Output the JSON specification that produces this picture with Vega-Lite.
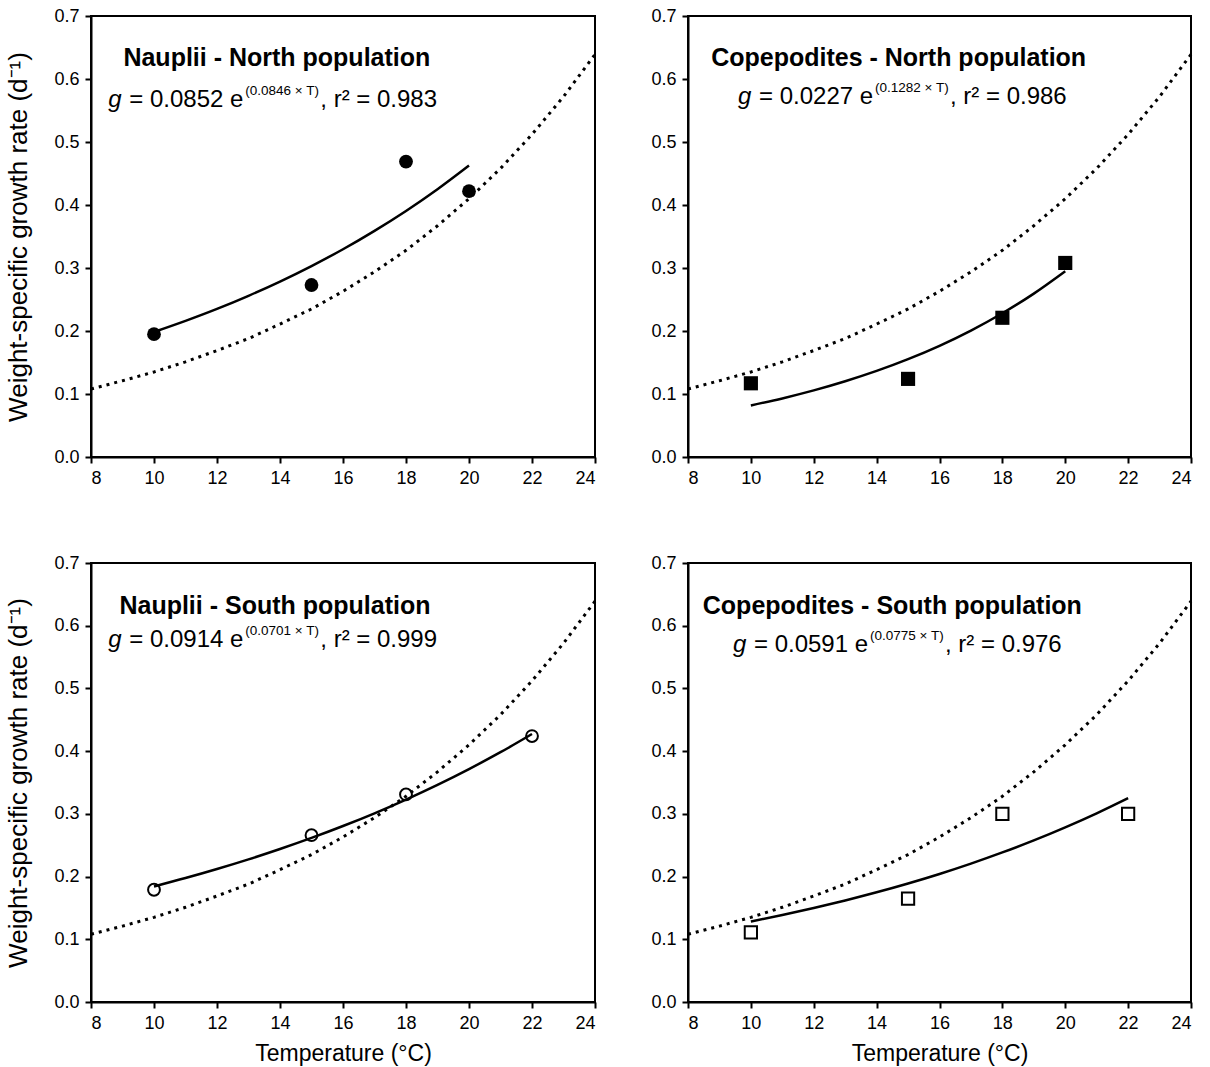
{
  "$schema": "https://vega.github.io/schema/vega-lite/v6.json",
  "background": "white",
  "padding": {"left": 4, "top": 6, "right": 5, "bottom": 0},
  "config": {
    "font": "Liberation Sans",
    "view": {"stroke": "black", "strokeWidth": 2},
    "axis": {
      "domain": true, "domainColor": "black", "domainWidth": 2,
      "ticks": true, "tickColor": "black", "tickWidth": 2, "tickSize": 6,
      "grid": false, "labelFont": "Liberation Sans", "labelFontSize": 18, "labelColor": "black", "labelPadding": 6,
      "titleFont": "Liberation Sans", "titleFontSize": 23, "titleFontWeight": "normal", "titleColor": "black"
    },
    "text": {"color": "black", "font": "Liberation Sans"}
  },
  "datasets": {
    "ref": [
      {"T": 8, "g": 0.108}, {"T": 9, "g": 0.121}, {"T": 10, "g": 0.135}, {"T": 11, "g": 0.151},
      {"T": 12, "g": 0.169}, {"T": 13, "g": 0.188}, {"T": 14, "g": 0.211}, {"T": 15, "g": 0.235},
      {"T": 16, "g": 0.263}, {"T": 17, "g": 0.294}, {"T": 18, "g": 0.328}, {"T": 19, "g": 0.367},
      {"T": 20, "g": 0.41}, {"T": 21, "g": 0.458}, {"T": 22, "g": 0.512}, {"T": 23, "g": 0.572},
      {"T": 24, "g": 0.639}
    ],
    "fit": [
      {"panel": "NN", "T": 10, "g": 0.1985}, {"panel": "NN", "T": 11, "g": 0.2161}, {"panel": "NN", "T": 12, "g": 0.2351},
      {"panel": "NN", "T": 13, "g": 0.2559}, {"panel": "NN", "T": 14, "g": 0.2785}, {"panel": "NN", "T": 15, "g": 0.3031},
      {"panel": "NN", "T": 16, "g": 0.3298}, {"panel": "NN", "T": 17, "g": 0.359}, {"panel": "NN", "T": 18, "g": 0.3906},
      {"panel": "NN", "T": 19, "g": 0.4251}, {"panel": "NN", "T": 20, "g": 0.4627},
      {"panel": "CN", "T": 10, "g": 0.0818}, {"panel": "CN", "T": 11, "g": 0.093}, {"panel": "CN", "T": 12, "g": 0.1057},
      {"panel": "CN", "T": 13, "g": 0.1202}, {"panel": "CN", "T": 14, "g": 0.1366}, {"panel": "CN", "T": 15, "g": 0.1553},
      {"panel": "CN", "T": 16, "g": 0.1765}, {"panel": "CN", "T": 17, "g": 0.2007}, {"panel": "CN", "T": 18, "g": 0.2281},
      {"panel": "CN", "T": 19, "g": 0.2593}, {"panel": "CN", "T": 20, "g": 0.2948},
      {"panel": "NS", "T": 10, "g": 0.1842}, {"panel": "NS", "T": 11, "g": 0.1976}, {"panel": "NS", "T": 12, "g": 0.212},
      {"panel": "NS", "T": 13, "g": 0.2274}, {"panel": "NS", "T": 14, "g": 0.2439}, {"panel": "NS", "T": 15, "g": 0.2616},
      {"panel": "NS", "T": 16, "g": 0.2806}, {"panel": "NS", "T": 17, "g": 0.3009}, {"panel": "NS", "T": 18, "g": 0.3228},
      {"panel": "NS", "T": 19, "g": 0.3462}, {"panel": "NS", "T": 20, "g": 0.3714}, {"panel": "NS", "T": 21, "g": 0.3983},
      {"panel": "NS", "T": 22, "g": 0.4273},
      {"panel": "CS", "T": 10, "g": 0.1283}, {"panel": "CS", "T": 11, "g": 0.1386}, {"panel": "CS", "T": 12, "g": 0.1498},
      {"panel": "CS", "T": 13, "g": 0.1619}, {"panel": "CS", "T": 14, "g": 0.1749}, {"panel": "CS", "T": 15, "g": 0.189},
      {"panel": "CS", "T": 16, "g": 0.2042}, {"panel": "CS", "T": 17, "g": 0.2207}, {"panel": "CS", "T": 18, "g": 0.2385},
      {"panel": "CS", "T": 19, "g": 0.2577}, {"panel": "CS", "T": 20, "g": 0.2785}, {"panel": "CS", "T": 21, "g": 0.3009},
      {"panel": "CS", "T": 22, "g": 0.3251}
    ],
    "obs": [
      {"panel": "NN", "T": 10, "g": 0.195}, {"panel": "NN", "T": 15, "g": 0.273}, {"panel": "NN", "T": 18, "g": 0.469}, {"panel": "NN", "T": 20, "g": 0.422},
      {"panel": "CN", "T": 10, "g": 0.117}, {"panel": "CN", "T": 15, "g": 0.124}, {"panel": "CN", "T": 18, "g": 0.221}, {"panel": "CN", "T": 20, "g": 0.308},
      {"panel": "NS", "T": 10, "g": 0.179}, {"panel": "NS", "T": 15, "g": 0.266}, {"panel": "NS", "T": 18, "g": 0.331}, {"panel": "NS", "T": 22, "g": 0.424},
      {"panel": "CS", "T": 10, "g": 0.111}, {"panel": "CS", "T": 15, "g": 0.165}, {"panel": "CS", "T": 18, "g": 0.3}, {"panel": "CS", "T": 22, "g": 0.3}
    ],
    "titles": [
      {"panel": "NN", "T": 13.9, "g": 0.633, "label": "Nauplii - North population"},
      {"panel": "CN", "T": 14.7, "g": 0.633, "label": "Copepodites - North population"},
      {"panel": "NS", "T": 13.84, "g": 0.632, "label": "Nauplii - South population"},
      {"panel": "CS", "T": 14.5, "g": 0.632, "label": "Copepodites - South population"}
    ],
    "eqs": [
      {"panel": "NN", "T": 8.55, "g": 0.567, "v": "g", "lhs": "= 0.0852 e", "sup": "(0.0846 × T)", "rhs": ", r² = 0.983"},
      {"panel": "CN", "T": 9.59, "g": 0.571, "v": "g", "lhs": "= 0.0227 e", "sup": "(0.1282 × T)", "rhs": ", r² = 0.986"},
      {"panel": "NS", "T": 8.55, "g": 0.577, "v": "g", "lhs": "= 0.0914 e", "sup": "(0.0701 × T)", "rhs": ", r² = 0.999"},
      {"panel": "CS", "T": 9.43, "g": 0.569, "v": "g", "lhs": "= 0.0591 e", "sup": "(0.0775 × T)", "rhs": ", r² = 0.976"}
    ]
  },
  "spacing": 65,
  "vconcat": [
    {
      "spacing": 47,
      "hconcat": [
        {
          "width": 504, "height": 441,
          "encoding": {
            "x": {"field": "T", "type": "quantitative", "scale": {"domain": [8, 24], "nice": false, "zero": false}, "axis": {"values": [8, 10, 12, 14, 16, 18, 20, 22, 24], "title": null}},
            "y": {"field": "g", "type": "quantitative", "scale": {"domain": [0, 0.7], "nice": false}, "axis": {"values": [0, 0.1, 0.2, 0.3, 0.4, 0.5, 0.6, 0.7], "format": ".1f", "title": "Weight-specific growth rate (d⁻¹)", "titleFontSize": 26, "titlePadding": 22}}
          },
          "layer": [
            {"data": {"name": "ref"}, "mark": {"type": "line", "color": "black", "strokeWidth": 3, "strokeDash": [3, 5], "strokeCap": "butt"}},
            {"data": {"name": "fit"}, "transform": [{"filter": "datum.panel === 'NN'"}], "mark": {"type": "line", "color": "black", "strokeWidth": 2.5, "interpolate": "monotone"}},
            {"data": {"name": "obs"}, "transform": [{"filter": "datum.panel === 'NN'"}], "mark": {"type": "circle", "color": "black", "size": 190, "opacity": 1}},
            {"data": {"name": "titles"}, "transform": [{"filter": "datum.panel === 'NN'"}], "mark": {"type": "text", "fontSize": 25, "fontWeight": "bold", "align": "center", "baseline": "middle"}, "encoding": {"text": {"field": "label"}}},
            {"data": {"name": "eqs"}, "transform": [{"filter": "datum.panel === 'NN'"}], "mark": {"type": "text", "fontSize": 24, "fontStyle": "italic", "align": "left", "baseline": "middle"}, "encoding": {"text": {"field": "v"}}},
            {"data": {"name": "eqs"}, "transform": [{"filter": "datum.panel === 'NN'"}], "mark": {"type": "text", "fontSize": 24, "align": "left", "baseline": "middle", "dx": 21}, "encoding": {"text": {"field": "lhs"}}},
            {"data": {"name": "eqs"}, "transform": [{"filter": "datum.panel === 'NN'"}], "mark": {"type": "text", "fontSize": 13.5, "align": "left", "baseline": "middle", "dx": 137, "dy": -9}, "encoding": {"text": {"field": "sup"}}},
            {"data": {"name": "eqs"}, "transform": [{"filter": "datum.panel === 'NN'"}], "mark": {"type": "text", "fontSize": 24, "align": "left", "baseline": "middle", "dx": 212}, "encoding": {"text": {"field": "rhs"}}}
          ]
        },
        {
          "width": 503, "height": 441,
          "encoding": {
            "x": {"field": "T", "type": "quantitative", "scale": {"domain": [8, 24], "nice": false, "zero": false}, "axis": {"values": [8, 10, 12, 14, 16, 18, 20, 22, 24], "title": null}},
            "y": {"field": "g", "type": "quantitative", "scale": {"domain": [0, 0.7], "nice": false}, "axis": {"values": [0, 0.1, 0.2, 0.3, 0.4, 0.5, 0.6, 0.7], "format": ".1f", "title": null}}
          },
          "layer": [
            {"data": {"name": "ref"}, "mark": {"type": "line", "color": "black", "strokeWidth": 3, "strokeDash": [3, 5], "strokeCap": "butt"}},
            {"data": {"name": "fit"}, "transform": [{"filter": "datum.panel === 'CN'"}], "mark": {"type": "line", "color": "black", "strokeWidth": 2.5, "interpolate": "monotone"}},
            {"data": {"name": "obs"}, "transform": [{"filter": "datum.panel === 'CN'"}], "mark": {"type": "square", "color": "black", "size": 200, "opacity": 1}},
            {"data": {"name": "titles"}, "transform": [{"filter": "datum.panel === 'CN'"}], "mark": {"type": "text", "fontSize": 25, "fontWeight": "bold", "align": "center", "baseline": "middle"}, "encoding": {"text": {"field": "label"}}},
            {"data": {"name": "eqs"}, "transform": [{"filter": "datum.panel === 'CN'"}], "mark": {"type": "text", "fontSize": 24, "fontStyle": "italic", "align": "left", "baseline": "middle"}, "encoding": {"text": {"field": "v"}}},
            {"data": {"name": "eqs"}, "transform": [{"filter": "datum.panel === 'CN'"}], "mark": {"type": "text", "fontSize": 24, "align": "left", "baseline": "middle", "dx": 21}, "encoding": {"text": {"field": "lhs"}}},
            {"data": {"name": "eqs"}, "transform": [{"filter": "datum.panel === 'CN'"}], "mark": {"type": "text", "fontSize": 13.5, "align": "left", "baseline": "middle", "dx": 137, "dy": -9}, "encoding": {"text": {"field": "sup"}}},
            {"data": {"name": "eqs"}, "transform": [{"filter": "datum.panel === 'CN'"}], "mark": {"type": "text", "fontSize": 24, "align": "left", "baseline": "middle", "dx": 212}, "encoding": {"text": {"field": "rhs"}}}
          ]
        }
      ]
    },
    {
      "spacing": 47,
      "hconcat": [
        {
          "width": 504, "height": 439,
          "encoding": {
            "x": {"field": "T", "type": "quantitative", "scale": {"domain": [8, 24], "nice": false, "zero": false}, "axis": {"values": [8, 10, 12, 14, 16, 18, 20, 22, 24], "title": "Temperature (°C)", "titlePadding": 10}},
            "y": {"field": "g", "type": "quantitative", "scale": {"domain": [0, 0.7], "nice": false}, "axis": {"values": [0, 0.1, 0.2, 0.3, 0.4, 0.5, 0.6, 0.7], "format": ".1f", "title": "Weight-specific growth rate (d⁻¹)", "titleFontSize": 26, "titlePadding": 22}}
          },
          "layer": [
            {"data": {"name": "ref"}, "mark": {"type": "line", "color": "black", "strokeWidth": 3, "strokeDash": [3, 5], "strokeCap": "butt"}},
            {"data": {"name": "fit"}, "transform": [{"filter": "datum.panel === 'NS'"}], "mark": {"type": "line", "color": "black", "strokeWidth": 2.5, "interpolate": "monotone"}},
            {"data": {"name": "obs"}, "transform": [{"filter": "datum.panel === 'NS'"}], "mark": {"type": "point", "shape": "circle", "filled": false, "color": "black", "fill": "white", "fillOpacity": 0, "strokeWidth": 2, "size": 140, "opacity": 1}},
            {"data": {"name": "titles"}, "transform": [{"filter": "datum.panel === 'NS'"}], "mark": {"type": "text", "fontSize": 25, "fontWeight": "bold", "align": "center", "baseline": "middle"}, "encoding": {"text": {"field": "label"}}},
            {"data": {"name": "eqs"}, "transform": [{"filter": "datum.panel === 'NS'"}], "mark": {"type": "text", "fontSize": 24, "fontStyle": "italic", "align": "left", "baseline": "middle"}, "encoding": {"text": {"field": "v"}}},
            {"data": {"name": "eqs"}, "transform": [{"filter": "datum.panel === 'NS'"}], "mark": {"type": "text", "fontSize": 24, "align": "left", "baseline": "middle", "dx": 21}, "encoding": {"text": {"field": "lhs"}}},
            {"data": {"name": "eqs"}, "transform": [{"filter": "datum.panel === 'NS'"}], "mark": {"type": "text", "fontSize": 13.5, "align": "left", "baseline": "middle", "dx": 137, "dy": -9}, "encoding": {"text": {"field": "sup"}}},
            {"data": {"name": "eqs"}, "transform": [{"filter": "datum.panel === 'NS'"}], "mark": {"type": "text", "fontSize": 24, "align": "left", "baseline": "middle", "dx": 212}, "encoding": {"text": {"field": "rhs"}}}
          ]
        },
        {
          "width": 503, "height": 439,
          "encoding": {
            "x": {"field": "T", "type": "quantitative", "scale": {"domain": [8, 24], "nice": false, "zero": false}, "axis": {"values": [8, 10, 12, 14, 16, 18, 20, 22, 24], "title": "Temperature (°C)", "titlePadding": 10}},
            "y": {"field": "g", "type": "quantitative", "scale": {"domain": [0, 0.7], "nice": false}, "axis": {"values": [0, 0.1, 0.2, 0.3, 0.4, 0.5, 0.6, 0.7], "format": ".1f", "title": null}}
          },
          "layer": [
            {"data": {"name": "ref"}, "mark": {"type": "line", "color": "black", "strokeWidth": 3, "strokeDash": [3, 5], "strokeCap": "butt"}},
            {"data": {"name": "fit"}, "transform": [{"filter": "datum.panel === 'CS'"}], "mark": {"type": "line", "color": "black", "strokeWidth": 2.5, "interpolate": "monotone"}},
            {"data": {"name": "obs"}, "transform": [{"filter": "datum.panel === 'CS'"}], "mark": {"type": "point", "shape": "square", "filled": false, "color": "black", "fill": "white", "fillOpacity": 0, "strokeWidth": 2, "size": 150, "opacity": 1}},
            {"data": {"name": "titles"}, "transform": [{"filter": "datum.panel === 'CS'"}], "mark": {"type": "text", "fontSize": 25, "fontWeight": "bold", "align": "center", "baseline": "middle"}, "encoding": {"text": {"field": "label"}}},
            {"data": {"name": "eqs"}, "transform": [{"filter": "datum.panel === 'CS'"}], "mark": {"type": "text", "fontSize": 24, "fontStyle": "italic", "align": "left", "baseline": "middle"}, "encoding": {"text": {"field": "v"}}},
            {"data": {"name": "eqs"}, "transform": [{"filter": "datum.panel === 'CS'"}], "mark": {"type": "text", "fontSize": 24, "align": "left", "baseline": "middle", "dx": 21}, "encoding": {"text": {"field": "lhs"}}},
            {"data": {"name": "eqs"}, "transform": [{"filter": "datum.panel === 'CS'"}], "mark": {"type": "text", "fontSize": 13.5, "align": "left", "baseline": "middle", "dx": 137, "dy": -9}, "encoding": {"text": {"field": "sup"}}},
            {"data": {"name": "eqs"}, "transform": [{"filter": "datum.panel === 'CS'"}], "mark": {"type": "text", "fontSize": 24, "align": "left", "baseline": "middle", "dx": 212}, "encoding": {"text": {"field": "rhs"}}}
          ]
        }
      ]
    }
  ]
}
